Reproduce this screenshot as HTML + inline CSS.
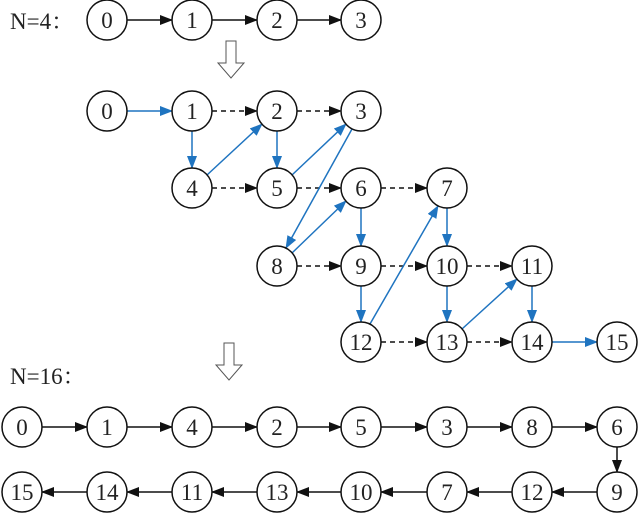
<!DOCTYPE html>
<html><head><meta charset="utf-8"><style>body{margin:0;background:#fff}svg{display:block}</style></head><body>
<svg width="640" height="514" viewBox="0 0 640 514" xmlns="http://www.w3.org/2000/svg" font-family="Liberation Serif, Noto Serif CJK SC, serif">
<defs>
<marker id="ak" markerWidth="13" markerHeight="10" refX="12" refY="5" orient="auto" markerUnits="userSpaceOnUse"><path d="M0,0 L13,5 L0,10 Z" fill="#111"/></marker>
<marker id="ab" markerWidth="13" markerHeight="10" refX="12" refY="5" orient="auto" markerUnits="userSpaceOnUse"><path d="M0,0 L13,5 L0,10 Z" fill="#1f74c0"/></marker>
</defs>
<text x="10" y="29" font-size="23" fill="#222">N=4：</text>
<text x="10" y="384" font-size="23" fill="#222">N=16：</text>
<path d="M226,41 h10 v22 h8 l-13,15 l-13,-15 h8 z" fill="#fff" stroke="#555"/>
<path d="M224,343 h10 v22 h8 l-13,15 l-13,-15 h8 z" fill="#fff" stroke="#555"/>
<g stroke="#111" stroke-width="1.5" fill="none">
<line x1="127" y1="20" x2="172" y2="20" marker-end="url(#ak)"/>
<line x1="212" y1="20" x2="257" y2="20" marker-end="url(#ak)"/>
<line x1="297" y1="20" x2="341" y2="20" marker-end="url(#ak)"/>
</g>
<g stroke="#111" stroke-width="1.5" fill="none" stroke-dasharray="5,4">
<line x1="212" y1="111" x2="257" y2="111" marker-end="url(#ak)"/>
<line x1="297" y1="111" x2="341" y2="111" marker-end="url(#ak)"/>
<line x1="212" y1="188" x2="257" y2="188" marker-end="url(#ak)"/>
<line x1="297" y1="188" x2="341" y2="188" marker-end="url(#ak)"/>
<line x1="381" y1="188" x2="427" y2="188" marker-end="url(#ak)"/>
<line x1="297" y1="266" x2="341" y2="266" marker-end="url(#ak)"/>
<line x1="381" y1="266" x2="427" y2="266" marker-end="url(#ak)"/>
<line x1="467" y1="266" x2="512" y2="266" marker-end="url(#ak)"/>
<line x1="381" y1="342" x2="427" y2="342" marker-end="url(#ak)"/>
<line x1="467" y1="342" x2="512" y2="342" marker-end="url(#ak)"/>
</g>
<g stroke="#1f74c0" stroke-width="1.5" fill="none" marker-end="url(#ab)">
<line x1="127" y1="111" x2="172" y2="111"/>
<line x1="192" y1="131" x2="192" y2="168"/>
<line x1="207" y1="175" x2="262" y2="124"/>
<line x1="277" y1="131" x2="277" y2="168"/>
<line x1="292" y1="175" x2="346" y2="124"/>
<line x1="352" y1="129" x2="286" y2="248"/>
<line x1="292" y1="253" x2="346" y2="201"/>
<line x1="361" y1="208" x2="361" y2="246"/>
<line x1="361" y1="286" x2="361" y2="322"/>
<line x1="370" y1="324" x2="438" y2="206"/>
<line x1="447" y1="208" x2="447" y2="246"/>
<line x1="447" y1="286" x2="447" y2="322"/>
<line x1="462" y1="329" x2="517" y2="279"/>
<line x1="532" y1="286" x2="532" y2="322"/>
<line x1="552" y1="342" x2="597" y2="342"/>
</g>
<g stroke="#111" stroke-width="1.5" fill="none">
<line x1="42" y1="427" x2="87" y2="427" marker-end="url(#ak)"/>
<line x1="127" y1="427" x2="172" y2="427" marker-end="url(#ak)"/>
<line x1="212" y1="427" x2="257" y2="427" marker-end="url(#ak)"/>
<line x1="297" y1="427" x2="341" y2="427" marker-end="url(#ak)"/>
<line x1="381" y1="427" x2="427" y2="427" marker-end="url(#ak)"/>
<line x1="467" y1="427" x2="512" y2="427" marker-end="url(#ak)"/>
<line x1="552" y1="427" x2="597" y2="427" marker-end="url(#ak)"/>
<line x1="617" y1="447" x2="617" y2="472" marker-end="url(#ak)"/>
<line x1="597" y1="492" x2="552" y2="492" marker-end="url(#ak)"/>
<line x1="512" y1="492" x2="467" y2="492" marker-end="url(#ak)"/>
<line x1="427" y1="492" x2="381" y2="492" marker-end="url(#ak)"/>
<line x1="341" y1="492" x2="297" y2="492" marker-end="url(#ak)"/>
<line x1="257" y1="492" x2="212" y2="492" marker-end="url(#ak)"/>
<line x1="172" y1="492" x2="127" y2="492" marker-end="url(#ak)"/>
<line x1="87" y1="492" x2="42" y2="492" marker-end="url(#ak)"/>
</g>
<g stroke="#111" stroke-width="1.5" fill="#fff">
<circle cx="107" cy="20" r="20"/><circle cx="192" cy="20" r="20"/><circle cx="277" cy="20" r="20"/><circle cx="361" cy="20" r="20"/>
<circle cx="107" cy="111" r="20"/><circle cx="192" cy="111" r="20"/><circle cx="277" cy="111" r="20"/><circle cx="361" cy="111" r="20"/>
<circle cx="192" cy="188" r="20"/><circle cx="277" cy="188" r="20"/><circle cx="361" cy="188" r="20"/><circle cx="447" cy="188" r="20"/>
<circle cx="277" cy="266" r="20"/><circle cx="361" cy="266" r="20"/><circle cx="447" cy="266" r="20"/><circle cx="532" cy="266" r="20"/>
<circle cx="361" cy="342" r="20"/><circle cx="447" cy="342" r="20"/><circle cx="532" cy="342" r="20"/><circle cx="617" cy="342" r="20"/>
<circle cx="22" cy="427" r="20"/><circle cx="107" cy="427" r="20"/><circle cx="192" cy="427" r="20"/><circle cx="277" cy="427" r="20"/><circle cx="361" cy="427" r="20"/><circle cx="447" cy="427" r="20"/><circle cx="532" cy="427" r="20"/><circle cx="617" cy="427" r="20"/>
<circle cx="22" cy="492" r="20"/><circle cx="107" cy="492" r="20"/><circle cx="192" cy="492" r="20"/><circle cx="277" cy="492" r="20"/><circle cx="361" cy="492" r="20"/><circle cx="447" cy="492" r="20"/><circle cx="532" cy="492" r="20"/><circle cx="617" cy="492" r="20"/>
</g>
<g font-size="23" fill="#222" text-anchor="middle">
<text x="107" y="28">0</text><text x="192" y="28">1</text><text x="277" y="28">2</text><text x="361" y="28">3</text>
<text x="107" y="119">0</text><text x="192" y="119">1</text><text x="277" y="119">2</text><text x="361" y="119">3</text>
<text x="192" y="196">4</text><text x="277" y="196">5</text><text x="361" y="196">6</text><text x="447" y="196">7</text>
<text x="277" y="274">8</text><text x="361" y="274">9</text><text x="447" y="274">10</text><text x="532" y="274">11</text>
<text x="361" y="350">12</text><text x="447" y="350">13</text><text x="532" y="350">14</text><text x="617" y="350">15</text>
<text x="22" y="435">0</text><text x="107" y="435">1</text><text x="192" y="435">4</text><text x="277" y="435">2</text><text x="361" y="435">5</text><text x="447" y="435">3</text><text x="532" y="435">8</text><text x="617" y="435">6</text>
<text x="22" y="500">15</text><text x="107" y="500">14</text><text x="192" y="500">11</text><text x="277" y="500">13</text><text x="361" y="500">10</text><text x="447" y="500">7</text><text x="532" y="500">12</text><text x="617" y="500">9</text>
</g>
</svg>
</body></html>
